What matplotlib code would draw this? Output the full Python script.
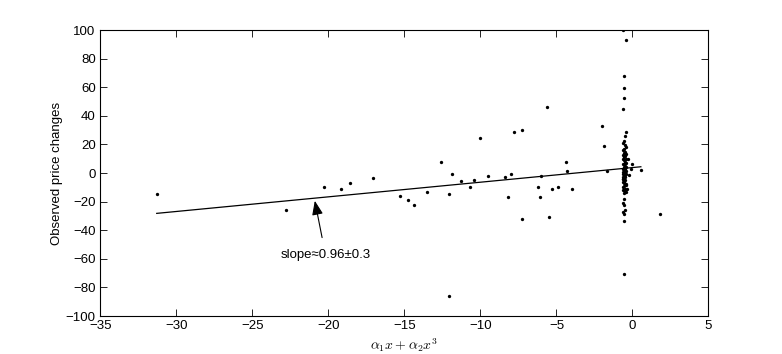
import numpy as np
import matplotlib
matplotlib.use("Agg")
import matplotlib.pyplot as plt

plt.rcParams['font.family'] = ['Liberation Sans', 'DejaVu Sans']
plt.rcParams['mathtext.fontset'] = 'cm'

# Scattered points away from the cluster
x_spread = [-31.3, -22.8, -20.3, -19.2, -18.6, -17.1, -15.3, -14.8, -14.4, -13.5,
            -12.6, -12.1, -11.9, -12.1, -11.3, -10.7, -10.4, -10.0, -9.5, -8.4,
            -8.2, -8.0, -7.8, -7.3, -7.3, -6.2, -6.1, -6.0, -5.6, -5.5,
            -5.3, -4.9, -4.4, -4.3, -4.0, -2.0, -1.85, -1.7, 1.8, 0.55,
            -0.35, -0.2, -0.1, 0.0, -0.3]
y_spread = [-15.0, -26.0, -10.0, -11.0, -7.0, -3.7, -16.0, -19.0, -22.0, -13.0,
            8.0, -15.0, -0.5, -86.0, -5.6, -10.0, -5.0, 24.5, -2.3, -2.6,
            -17.0, -1.0, 28.5, 30.0, -32.0, -10.0, -17.0, -2.3, 46.0, -31.0,
            -11.5, -9.5, 8.0, 1.4, -11.0, 32.7, 19.0, 1.4, -28.7, 2.1,
            -11.2, -1.2, 2.6, 6.3, 9.6]

# Vertical cluster near x = -0.55
x_cluster = [-0.6, -0.4, -0.55, -0.55, -0.55, -0.6, -0.45, -0.5, -0.55, -0.6,
             -0.5, -0.45, -0.55, -0.6, -0.5, -0.55, -0.45, -0.6, -0.5, -0.55,
             -0.45, -0.6, -0.55, -0.5, -0.45, -0.6, -0.55, -0.5, -0.45, -0.55,
             -0.6, -0.5, -0.55, -0.45, -0.6, -0.5, -0.55, -0.6, -0.45, -0.5,
             -0.55, -0.6, -0.5, -0.55, -0.6, -0.5, -0.55, -0.6, -0.55, -0.45,
             -0.55, -0.6, -0.5, -0.6, -0.45, -0.55, -0.6, -0.55, -0.5, -0.6,
             -0.55, -0.55, -0.45, -0.55, -0.6, -0.5, -0.55, -0.55]
y_cluster = [99.8, 93.2, 67.8, 59.2, 52.4, 45.0, 28.5, 25.6, 22.6, 21.0,
             19.5, 18.0, 17.0, 16.0, 15.0, 14.0, 13.0, 12.5, 12.0, 11.0,
             10.0, 9.5, 9.0, 8.0, 7.0, 6.5, 6.0, 5.0, 4.5, 4.0,
             3.0, 2.5, 2.0, 1.5, 1.0, 0.5, 0.0, -0.5, -1.0, -1.5,
             -2.0, -2.5, -3.0, -3.5, -4.0, -5.0, -5.5, -6.0, -7.0, -8.0,
             -9.0, -10.0, -11.0, -12.0, -13.0, -14.0, -21.2, -22.2, -25.9, -27.5,
             -28.9, -33.6, -8.5, -6.5, -4.5, -12.5, -70.4, -18.0]

# Fitted line end points
fit_x = [-31.3, 0.55]
fit_y = [-28.2, 4.4]

fig = plt.figure(figsize=(7.82, 3.54), dpi=100)
ax = fig.add_axes([0.1285, 0.1073, 0.7775, 0.8077])

ax.plot(x_spread + x_cluster, y_spread + y_cluster, 'o', color='k',
        markersize=2.4, markeredgewidth=0)
ax.plot(fit_x, fit_y, '-', color='k', lw=0.9)

ax.annotate('slope\u22480.96\u00b10.3', xy=(-20.9, -19.4), xytext=(-20.2, -57),
            ha='center', va='center', fontsize=9.5,
            arrowprops=dict(arrowstyle='-|>,head_length=0.9,head_width=0.35',
                            color='k', lw=0.8, shrinkA=6, shrinkB=0))

ax.set_xlim(-35, 5)
ax.set_ylim(-100, 100)
ax.set_xticks(np.arange(-35, 6, 5))
ax.set_yticks(np.arange(-100, 101, 20))
ax.tick_params(direction='in', top=True, right=True, length=5, width=0.6,
               labelsize=9.5)
ax.tick_params(axis='x', pad=3)
for s in ax.spines.values():
    s.set_linewidth(0.8)

ax.set_xlabel(r'$\alpha_1 x+\alpha_2 x^3$', fontsize=10)
ax.xaxis.set_label_coords(0.5, -0.1)
ax.xaxis.label.set_va('center')
ax.set_ylabel('Observed price changes', fontsize=9.5)
ax.yaxis.set_label_coords(-0.062, 0.5)

fig.savefig('out.png', dpi=100)
